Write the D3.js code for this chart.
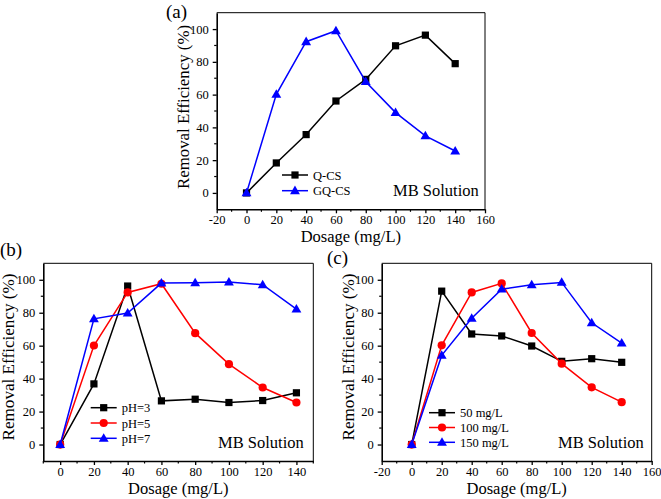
<!DOCTYPE html>
<html>
<head>
<meta charset="utf-8">
<script src="https://cdn.jsdelivr.net/npm/d3@7"></script>
<style>
  html, body { margin: 0; padding: 0; background: #fff; }
  svg { display: block; }
  svg text { font-family: "Liberation Serif", "Times New Roman", serif; fill: #000; }
</style>
</head>
<body>
<svg id="chart" width="661" height="499"></svg>
<script>
// ---------- DATA ----------
const dosage = [0, 20, 40, 60, 80, 100, 120, 140];

// Panel (a)
const qcs  = [0, 18.3, 35.6, 56.1, 69.3, 89.8, 96.3, 78.9];
const gqcs = [0, 60.2, 92.3, 99.0, 67.9, 49.0, 34.8, 25.6];

// Panel (b)
const pH3 = [0, 36.8, 96.2, 26.5, 27.5, 25.5, 26.7, 31.4];
const pH5 = [0, 60.1, 92.3, 97.6, 67.6, 48.8, 34.6, 25.5];
const pH7 = [0, 76.3, 79.8, 98.0, 98.2, 98.6, 97.0, 82.2];

// Panel (c)
const c50  = [0, 93.1, 67.1, 65.9, 59.8, 50.5, 52.1, 49.9];
const c100 = [0, 60.2, 92.3, 97.8, 67.7, 49.1, 34.7, 25.7];
const c150 = [0, 54.1, 76.6, 94.3, 97.0, 98.4, 73.9, 61.6];

const ticksA_x = [-20, 0, 20, 40, 60, 80, 100, 120, 140, 160];
const ticksB_x = [0, 20, 40, 60, 80, 100, 120, 140];
const ticksY = [0, 20, 40, 60, 80, 100];

const labelsA = ["Q-CS", "GQ-CS"];
const labelsB = ["pH=3", "pH=5", "pH=7"];
const labelsC = ["50 mg/L", "100 mg/L", "150 mg/L"];

const xTitle = "Dosage (mg/L)";
const yTitle = "Removal Efficiency (%)";
const note = "MB Solution";

// ---------- DRAW ----------
const svg = d3.select("#chart");
const BLACK = "#000000", RED = "#ff0000", BLUE = "#0000ff";

function marker(g, type, color, x, y) {
  if (type === "square") {
    g.append("rect").attr("x", x - 3.6).attr("y", y - 3.6)
      .attr("width", 7.2).attr("height", 7.2).attr("fill", color);
  } else if (type === "circle") {
    g.append("circle").attr("cx", x).attr("cy", y).attr("r", 4.1).attr("fill", color);
  } else {
    g.append("path").attr("d", d3.symbol().type(d3.symbolTriangle).size(42)())
      .attr("transform", `translate(${x},${y + 0.6})`).attr("fill", color);
  }
}

function panel(cfg) {
  const g = svg.append("g");
  const x = d3.scaleLinear().domain(cfg.xDomain).range([cfg.left, cfg.right]);
  const y = d3.scaleLinear().domain([-10, 110]).range([cfg.bottom, cfg.top]);

  // frame: top & right thin
  g.append("line").attr("x1", cfg.left).attr("x2", cfg.right).attr("y1", cfg.top).attr("y2", cfg.top)
    .attr("stroke", "#000").attr("stroke-width", 1);
  g.append("line").attr("x1", cfg.right).attr("x2", cfg.right).attr("y1", cfg.top).attr("y2", cfg.bottom)
    .attr("stroke", "#000").attr("stroke-width", 1);

  // bottom axis
  const minorX = d3.range(cfg.xDomain[0], cfg.xDomain[1] + 0.1, 10).filter(v => !cfg.xTicks.includes(v));
  const xAxis = g.append("g").attr("transform", `translate(0,${cfg.bottom})`)
    .call(d3.axisBottom(x).tickValues(cfg.xTicks).tickFormat(d => String(d))
      .tickSize(4).tickPadding(2).tickSizeOuter(0));
  xAxis.attr("font-family", null);
  xAxis.select(".domain").attr("stroke-width", 1.6);
  xAxis.selectAll(".tick line").attr("stroke-width", 1.3);
  xAxis.selectAll("text").attr("font-size", 12.5);
  xAxis.selectAll(".minor").data(minorX).enter().append("line")
    .attr("x1", d => x(d)).attr("x2", d => x(d)).attr("y1", 0).attr("y2", 2.5)
    .attr("stroke", "#000").attr("stroke-width", 1.2);

  // left axis
  const minorY = [10, 30, 50, 70, 90];
  const yAxis = g.append("g").attr("transform", `translate(${cfg.left},0)`)
    .call(d3.axisLeft(y).tickValues(ticksY).tickFormat(d => String(d))
      .tickSize(4).tickPadding(4).tickSizeOuter(0));
  yAxis.attr("font-family", null);
  yAxis.select(".domain").attr("stroke-width", 1.6);
  yAxis.selectAll(".tick line").attr("stroke-width", 1.3);
  yAxis.selectAll("text").attr("font-size", 12.5);
  yAxis.selectAll(".minor").data(minorY).enter().append("line")
    .attr("y1", d => y(d)).attr("y2", d => y(d)).attr("x1", 0).attr("x2", -2.5)
    .attr("stroke", "#000").attr("stroke-width", 1.2);

  // titles
  g.append("text").attr("x", (cfg.left + cfg.right) / 2).attr("y", cfg.bottom + 32.5)
    .attr("text-anchor", "middle").attr("font-size", 16.5).text(xTitle);
  g.append("text").attr("transform", `translate(${cfg.yTitleX},${cfg.yTitleC}) rotate(-90)`)
    .attr("text-anchor", "middle").attr("font-size", 17)
    .attr("textLength", cfg.yTitleLen).attr("lengthAdjust", "spacingAndGlyphs").text(yTitle);
  g.append("text").attr("x", cfg.panelX).attr("y", cfg.panelY).attr("font-size", 19).text(cfg.panel);
  g.append("text").attr("x", cfg.noteX).attr("y", cfg.bottom - 13).attr("font-size", 16.5).text(note);

  // series
  const line = d3.line().x((d, i) => x(dosage[i])).y(d => y(d));
  cfg.series.forEach(s => {
    g.append("path").attr("d", line(s.values)).attr("fill", "none")
      .attr("stroke", s.color).attr("stroke-width", 1.5);
    s.values.forEach((v, i) => marker(g, s.type, s.color, x(dosage[i]), y(v)));
  });

  // legend
  cfg.series.forEach((s, i) => {
    const ly = cfg.legY + i * cfg.legDy;
    g.append("line").attr("x1", cfg.legX).attr("x2", cfg.legX + 26).attr("y1", ly).attr("y2", ly)
      .attr("stroke", s.color).attr("stroke-width", 1.5);
    marker(g, s.type, s.color, cfg.legX + 13, ly);
    g.append("text").attr("x", cfg.legX + 31).attr("y", ly + 4.5).attr("font-size", 12.5).text(s.label);
  });
}

panel({
  left: 216.7, right: 485, top: 12.7, bottom: 209.3,
  xDomain: [-20, 160], xTicks: ticksA_x,
  yTitleX: 189, yTitleC: 107, yTitleLen: 164,
  panel: "(a)", panelX: 166, panelY: 18, noteX: 393,
  legX: 282, legY: 175, legDy: 15.7,
  series: [
    { values: qcs, color: BLACK, type: "square", label: labelsA[0] },
    { values: gqcs, color: BLUE, type: "triangle", label: labelsA[1] }
  ]
});

panel({
  left: 43.3, right: 313.3, top: 263.3, bottom: 461,
  xDomain: [-10, 150], xTicks: ticksB_x,
  yTitleX: 14, yTitleC: 357, yTitleLen: 167,
  panel: "(b)", panelX: 0, panelY: 256, noteX: 218,
  legX: 90.7, legY: 407.7, legDy: 15.3,
  series: [
    { values: pH3, color: BLACK, type: "square", label: labelsB[0] },
    { values: pH5, color: RED, type: "circle", label: labelsB[1] },
    { values: pH7, color: BLUE, type: "triangle", label: labelsB[2] }
  ]
});

panel({
  left: 381.7, right: 651.7, top: 263.3, bottom: 461,
  xDomain: [-20, 160], xTicks: ticksA_x,
  yTitleX: 354, yTitleC: 357, yTitleLen: 167,
  panel: "(c)", panelX: 327, panelY: 264, noteX: 558,
  legX: 429, legY: 412.7, legDy: 14.8,
  series: [
    { values: c50, color: BLACK, type: "square", label: labelsC[0] },
    { values: c100, color: RED, type: "circle", label: labelsC[1] },
    { values: c150, color: BLUE, type: "triangle", label: labelsC[2] }
  ]
});
</script>
</body>
</html>
